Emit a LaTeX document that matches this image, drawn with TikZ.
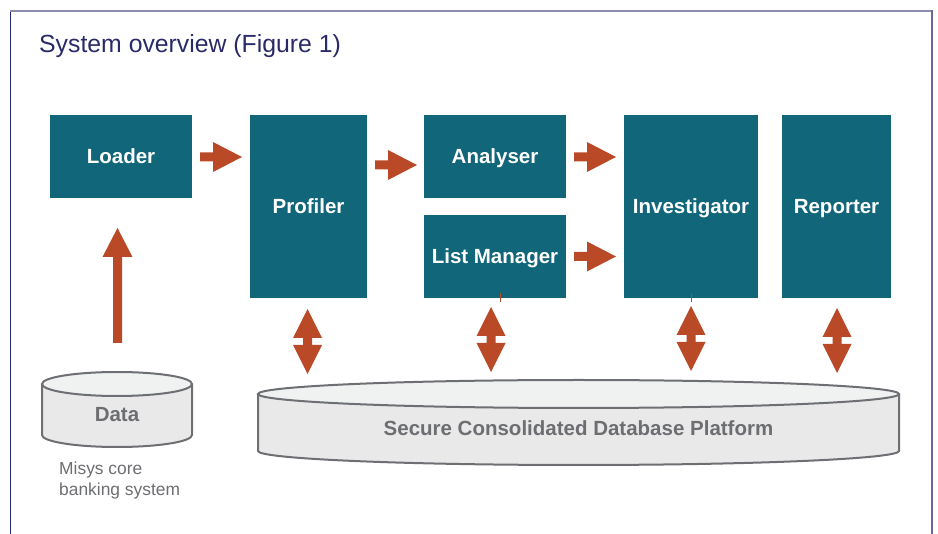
\documentclass[tikz,border=0pt]{standalone}
\usepackage{fontspec}
\setmainfont{Liberation Sans}
\definecolor{tealbox}{RGB}{18,102,122}
\definecolor{arrowc}{RGB}{186,74,39}
\definecolor{greytext}{RGB}{109,110,113}
\definecolor{cylline}{RGB}{110,111,115}
\definecolor{cylbody}{RGB}{233,233,233}
\definecolor{cyltop}{RGB}{240,241,241}
\definecolor{titlec}{RGB}{42,42,104}
\definecolor{frameleft}{RGB}{40,40,120}
\definecolor{frametop}{RGB}{140,140,172}
\definecolor{frameright}{RGB}{105,105,155}
\tikzset{
  box/.style={fill=tealbox, text=white, font=\bfseries\fontsize{20.5}{24}\selectfont,
    inner sep=0pt, text height=14.7pt, text depth=0pt},
  dbtext/.style={text=greytext, font=\bfseries\fontsize{20.5}{24}\selectfont,
    inner sep=0pt, text height=14.7pt, text depth=0pt},
  plaintext/.style={text=greytext, font=\fontsize{17.4}{21}\selectfont, inner sep=0pt, anchor=base west},
  cylstroke/.style={draw=cylline, line width=2pt},
  rarr/.pic={\fill[arrowc] (0,-4.5) -- (13,-4.5) -- (13,-15) -- (42,0) -- (13,15) -- (13,4.5) -- (0,4.5) -- cycle;},
  udarr/.pic={\fill[arrowc] (0,0) -- (14.5,29) -- (4.5,29) -- (4.5,36) -- (14.5,36) -- (0,65)
     -- (-14.5,36) -- (-4.5,36) -- (-4.5,29) -- (-14.5,29) -- cycle;}
}
\begin{document}
\begin{tikzpicture}[x=1pt,y=-1pt]
\useasboundingbox (0,0) rectangle (938,534);
% frame
\draw[frameleft, line width=1.5pt] (10.5,534) -- (10.5,11);
\draw[frametop, line width=2pt] (10,11) -- (932,11);
\draw[frameright, line width=1.5pt] (932,10) -- (932,534);
% title
\node[anchor=base west, inner sep=0pt, text=titlec, font=\fontsize{24.8}{30}\selectfont] (title) at (39,53) {System overview (Figure 1)};
% boxes
\node[box, minimum width=142pt, minimum height=83pt] (loader) at (121,156.5) {Loader};
\node[box, minimum width=117pt, minimum height=183pt] (profiler) at (308.5,206.5) {Profiler};
\node[box, minimum width=142pt, minimum height=83pt] (analyser) at (495,156.5) {Analyser};
\node[box, minimum width=142pt, minimum height=83pt] (listmgr) at (495,256.5) {List Manager};
\node[box, minimum width=134pt, minimum height=183pt] (investigator) at (691,206.5) {Investigator};
\node[box, minimum width=109pt, minimum height=183pt] (reporter) at (836.5,206.5) {Reporter};
% right arrows
\pic at (200,157) {rarr};
\pic at (375,165) {rarr};
\pic at (574,157) {rarr};
\pic at (574,256.5) {rarr};
% up-down arrows
\pic at (307.5,309) {udarr};
\pic at (491,307) {udarr};
\pic at (691,306) {udarr};
\pic at (837,308) {udarr};
% small ticks
\draw[arrowc, line width=0.8pt] (500,293) -- (500,302);
\draw[arrowc, line width=0.8pt] (691,294) -- (691,302.5);
% up arrow from data to loader
\fill[arrowc] (117.5,228) -- (132.5,257) -- (122,257) -- (122,343) -- (113,343) -- (113,257) -- (102.5,257) -- cycle;
% Data cylinder
\fill[cylbody] (42,384) -- (42,435) arc[start angle=180, end angle=0, x radius=75, y radius=12] -- (192,384) -- cycle;
\draw[cylstroke] (42,384) -- (42,435) arc[start angle=180, end angle=0, x radius=75, y radius=12] -- (192,384);
\filldraw[fill=cyltop, cylstroke] (117,384) ellipse [x radius=75, y radius=12];
\node[dbtext] (data) at (117,414.5) {Data};
\node[plaintext] (misys1) at (59,475) {Misys core};
\node[plaintext] (misys2) at (59,496) {banking system};
% Platform cylinder
\fill[cylbody] (258,394) -- (258,451) arc[start angle=180, end angle=0, x radius=320.5, y radius=14] -- (899,394) -- cycle;
\draw[cylstroke] (258,394) -- (258,451) arc[start angle=180, end angle=0, x radius=320.5, y radius=14] -- (899,394);
\filldraw[fill=cyltop, cylstroke] (578.5,394) ellipse [x radius=320.5, y radius=14];
\node[dbtext] (platform) at (578.5,427.7) {Secure Consolidated Database Platform};
\end{tikzpicture}
\end{document}
